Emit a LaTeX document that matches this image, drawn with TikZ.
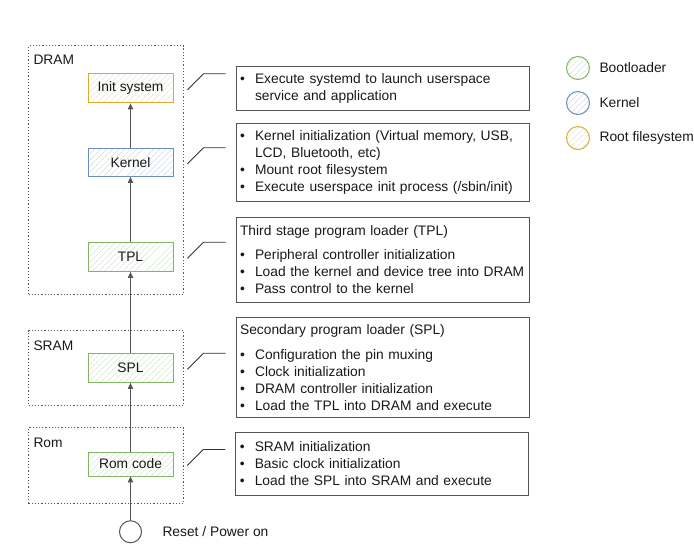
\documentclass[tikz,border=0pt]{standalone}
\usepackage{fontspec}
\setmainfont{Liberation Sans}
\usetikzlibrary{positioning,patterns.meta,arrows.meta}
\definecolor{bootgreen}{RGB}{130,179,102}
\definecolor{kernelblue}{RGB}{108,142,191}
\definecolor{rootyellow}{RGB}{218,172,45}
\definecolor{darkline}{RGB}{85,85,85}
\newcommand{\itm}{\makebox[15pt][l]{\textbullet}}
\newcommand{\itmc}{\hspace*{15pt}}

\begin{document}
\begin{tikzpicture}[x=1pt, y=-1pt,
        every node/.style={font=\fontsize{13.8}{17}\selectfont, text=black!90},
        stagebox/.style={rectangle, draw=#1, line width=1pt, minimum width=85pt, minimum height=29pt,
            pattern={Lines[angle=45,distance=4pt,line width=0.5pt]}, pattern color=#1!45},
        legcirc/.style={circle, draw=#1, line width=1pt, minimum size=23pt,
            pattern={Lines[angle=45,distance=4pt,line width=0.5pt]}, pattern color=#1!45},
        memframe/.style={rectangle, line width=1.2pt, draw=darkline, dotted, inner sep=0pt, anchor=north west},
        descbox/.style={rectangle, draw=darkline, line width=1.1pt, text width=285pt, inner xsep=4pt, align=left},
        flow/.style={-{Triangle[length=6pt,width=5pt]}, draw=darkline, line width=1.6pt},
        link/.style={draw=black!80, line width=0.9pt, shorten >=10pt}]
        \useasboundingbox (0,0) rectangle (694,560);
        % memory regions
        \node[memframe, minimum width=155pt, minimum height=249pt] (dram) at (28,45) {};
        \node[memframe, minimum width=155pt, minimum height=75pt] (sram) at (28,330) {};
        \node[memframe, minimum width=155pt, minimum height=76pt] (rom) at (28,427) {};
        \node[anchor=north west] (dramlbl) at ([xshift=2pt,yshift=-6pt]dram.north west) {DRAM};
        \node[anchor=north west] (sramlbl) at ([xshift=2pt,yshift=-7pt]sram.north west) {SRAM};
        \node[anchor=north west] (romlbl) at ([xshift=2pt,yshift=-7pt]rom.north west) {Rom};
        % boot stages
        \node[stagebox=bootgreen, minimum height=24pt] (romcode) at (130.5,464) {Rom code};
        \node[stagebox=bootgreen] (spl) [above=69pt of romcode] {SPL};
        \node[stagebox=bootgreen] (tpl) [above=81pt of spl] {TPL};
        \node[stagebox=kernelblue, minimum height=28pt] (kernel) [above=65pt of tpl] {Kernel};
        \node[stagebox=rootyellow] (initsys) [above=44.5pt of kernel] {Init system};
        \node[circle, draw=darkline, line width=1pt, minimum size=22pt] (reset) [below=44pt of romcode] {};
        \node (resetlbl) [right=17pt of reset] {Reset / Power on};
        \foreach \a/\b in {reset/romcode, romcode/spl, spl/tpl, tpl/kernel, kernel/initsys}
            \draw[flow] (\a) -- (\b);
        % descriptions
        \node[descbox, minimum height=44pt] (descinit) [right=62pt of initsys]
            {\itm Execute systemd to launch userspace\\ \itmc service and application};
        \node[descbox, minimum height=78pt] (desckernel) [right=62pt of kernel]
            {\itm Kernel initialization (Virtual memory, USB,\\ \itmc LCD, Bluetooth, etc)\\
             \itm Mount root filesystem\\ \itm Execute userspace init process (/sbin/init)};
        \node[descbox, minimum height=85pt] (desctpl) [right=62pt of tpl, yshift=-3pt]
            {Third stage program loader (TPL)\\[7pt] \itm Peripheral controller initialization\\
             \itm Load the kernel and device tree into DRAM\\ \itm Pass control to the kernel};
        \node[descbox, minimum height=100pt] (descspl) [right=62pt of spl]
            {Secondary program loader (SPL)\\[8pt] \itm Configuration the pin muxing\\
             \itm Clock initialization\\ \itm DRAM controller initialization\\
             \itm Load the TPL into DRAM and execute};
        \node[descbox, minimum height=63pt] (descrom) [right=62pt of romcode]
            {\itm SRAM initialization\\ \itm Basic clock initialization\\
             \itm Load the SPL into SRAM and execute};
        \foreach \stage/\desc in {initsys/descinit, kernel/desckernel, tpl/desctpl, spl/descspl, romcode/descrom} {
            \path ([xshift=14pt,yshift=-1.5pt]\stage.east) ++(16pt,16pt) coordinate (bend);
            \draw[link] ([xshift=14pt,yshift=-1.5pt]\stage.east) -- (bend) -- (\desc.west |- bend);
        }
        % legend
        \node[legcirc=bootgreen] (legboot) at (578,68) {};
        \node (legbootlbl) [right=6pt of legboot] {Bootloader};
        \node[legcirc=kernelblue] (legkernel) [below=11pt of legboot] {};
        \node (legkernellbl) [right=6pt of legkernel] {Kernel};
        \node[legcirc=rootyellow] (legroot) [below=11pt of legkernel] {};
        \node (legrootlbl) [right=6pt of legroot] {Root filesystem};
\end{tikzpicture}
\end{document}
